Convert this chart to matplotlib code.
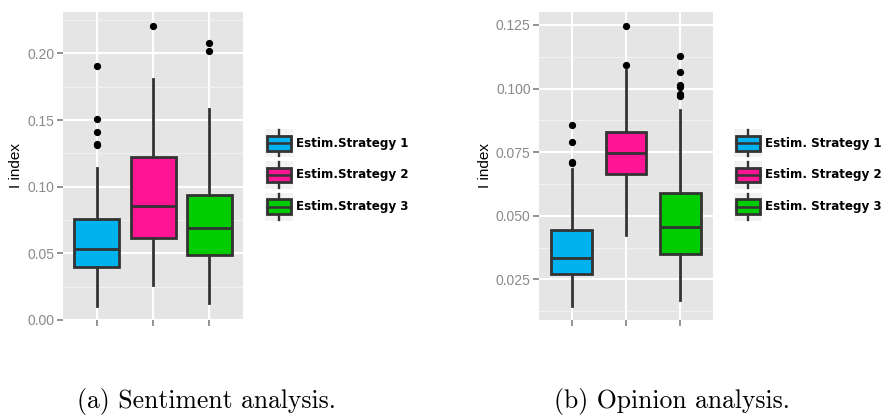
import matplotlib
matplotlib.use("Agg")
import matplotlib.pyplot as plt
from matplotlib.patches import Rectangle, Patch
from matplotlib.lines import Line2D
from matplotlib.legend_handler import HandlerBase
from matplotlib.ticker import MultipleLocator, FormatStrFormatter

plt.rcParams['font.family'] = ['Liberation Sans', 'DejaVu Sans']

# ---- data ----
categories = [1, 2, 3]

sent_whislo = [0.0105, 0.0263, 0.0125]
sent_q1 = [0.0396, 0.0612, 0.0489]
sent_med = [0.0534, 0.0857, 0.0687]
sent_q3 = [0.0759, 0.1220, 0.0935]
sent_whishi = [0.1140, 0.1805, 0.1586]
sent_fliers = [[0.1310, 0.1323, 0.1410, 0.1510, 0.1905], [0.2206], [0.2015, 0.2080]]
sent_labels = ['Estim.Strategy 1', 'Estim.Strategy 2', 'Estim.Strategy 3']
sent_yticks = [0.00, 0.05, 0.10, 0.15, 0.20]

op_whislo = [0.0145, 0.0425, 0.0169]
op_q1 = [0.0271, 0.0665, 0.0348]
op_med = [0.0333, 0.0746, 0.0457]
op_q3 = [0.0443, 0.0829, 0.0589]
op_whishi = [0.0683, 0.1074, 0.0917]
op_fliers = [[0.0707, 0.0712, 0.0788, 0.0855], [0.1091, 0.1246],
             [0.0972, 0.0978, 0.1006, 0.1014, 0.1066, 0.1127]]
op_labels = ['Estim. Strategy 1', 'Estim. Strategy 2', 'Estim. Strategy 3']
op_yticks = [0.025, 0.050, 0.075, 0.100, 0.125]

captions = ['(a) Sentiment analysis.', '(b) Opinion analysis.']
ylabel = 'I index'

colors = ['#00B2EE', '#FF1493', '#00CC00']
EDGE = '#333333'
TICKC = '#8a8a8a'
PANEL = '#e5e5e5'


class BoxKey(HandlerBase):
    def create_artists(self, legend, orig, xd, yd, w, h, fs, trans):
        x0, y0 = -xd, -yd
        bg = Rectangle((x0, y0), w, h, fc='#f2f2f2', ec='none', transform=trans)
        bx0 = x0 + 0.08 * w
        bw = 0.84 * w
        by0 = y0 + 0.24 * h
        bh = 0.52 * h
        xc = x0 + w / 2
        w1 = Line2D([xc, xc], [y0 + 0.04 * h, by0], color=EDGE, lw=1.7, transform=trans)
        w2 = Line2D([xc, xc], [by0 + bh, y0 + 0.96 * h], color=EDGE, lw=1.7, transform=trans)
        box = Rectangle((bx0, by0), bw, bh, fc=orig.get_facecolor(), ec=EDGE, lw=2.0,
                        transform=trans)
        med = Line2D([bx0, bx0 + bw], [y0 + h / 2] * 2, color=EDGE, lw=1.8, transform=trans)
        return [bg, w1, w2, box, med]


def draw_panel(ax, whislo, q1, med, q3, whishi, fliers, yticks, width):
    stats = []
    for i in range(len(categories)):
        stats.append(dict(whislo=whislo[i], q1=q1[i], med=med[i], q3=q3[i],
                          whishi=whishi[i], fliers=fliers[i]))
    ax.set_facecolor(PANEL)
    bp = ax.bxp(stats, positions=categories, widths=width, patch_artist=True,
                showcaps=False, showfliers=True,
                boxprops=dict(edgecolor=EDGE, linewidth=2.0),
                medianprops=dict(color=EDGE, linewidth=2.0),
                whiskerprops=dict(color=EDGE, linewidth=2.0),
                flierprops=dict(marker='o', markerfacecolor='black', markeredgecolor='black',
                                markersize=4.2, linestyle='none'),
                zorder=3)
    for patch, c in zip(bp['boxes'], colors):
        patch.set_facecolor(c)
    allv = whislo + whishi + [v for f in fliers for v in f]
    lo, hi = min(allv), max(allv)
    pad = 0.05 * (hi - lo)
    ax.set_ylim(lo - pad, hi + pad)
    ax.set_xlim(0.4, 3.6)
    ax.set_yticks(yticks)
    step = yticks[1] - yticks[0]
    ax.yaxis.set_minor_locator(MultipleLocator(step / 2))
    ax.set_xticks(categories)
    ax.set_xticklabels([])
    ax.grid(True, which='major', color='white', linewidth=1.5, zorder=0)
    ax.grid(True, which='minor', axis='y', color='#f4f4f4', linewidth=0.6, zorder=0)
    ax.set_axisbelow(True)
    for s in ax.spines.values():
        s.set_visible(False)
    ax.tick_params(axis='both', which='major', length=4, width=1.3, color=TICKC,
                   labelcolor=TICKC, labelsize=10, pad=2)
    ax.tick_params(axis='y', which='minor', length=0)
    ax.set_ylabel(ylabel, fontsize=11, color='black', labelpad=3)


fig = plt.figure(figsize=(8.88, 4.16), dpi=100)
H = 416.0
W = 888.0
ax1 = fig.add_axes([63 / W, 1 - 320 / H, 180 / W, 308 / H])
ax2 = fig.add_axes([539 / W, 1 - 320 / H, 174 / W, 308 / H])

draw_panel(ax1, sent_whislo, sent_q1, sent_med, sent_q3, sent_whishi, sent_fliers,
           sent_yticks, 0.8)
ax1.yaxis.set_major_formatter(FormatStrFormatter('%.2f'))
draw_panel(ax2, op_whislo, op_q1, op_med, op_q3, op_whishi, op_fliers, op_yticks, 0.75)
ax2.yaxis.set_major_formatter(FormatStrFormatter('%.3f'))

for labels, xk in [(sent_labels, 265), (op_labels, 734)]:
    handles = [Patch(facecolor=c) for c in colors]
    fig.legend(handles, labels, loc='center left', bbox_to_anchor=(xk / W, 1 - 175 / H),
               frameon=False, borderpad=0, borderaxespad=0, handler_map={Patch: BoxKey()},
               prop={'weight': 'bold', 'size': 8.6, 'family': 'DejaVu Sans'},
               handlelength=2.35, handleheight=3.25, labelspacing=0.3, handletextpad=0.25)

fig.text(206 / W, 1 - 408 / H, captions[0], ha='center', va='baseline', fontsize=18.5,
         family='cmr10')
fig.text(672 / W, 1 - 408 / H, captions[1], ha='center', va='baseline', fontsize=18.5,
         family='cmr10')

fig.savefig('out.png', dpi=100)
